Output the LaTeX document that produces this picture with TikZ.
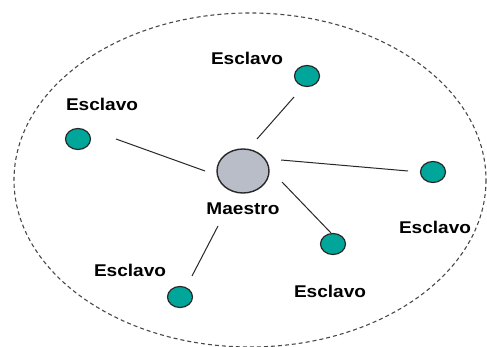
\documentclass[tikz,border=0pt]{standalone}
\usepackage{fontspec}
\setmainfont{Liberation Sans}
\usetikzlibrary{shapes.geometric}
\definecolor{slavefill}{RGB}{0,166,153}
\definecolor{masterfill}{RGB}{185,189,199}
\definecolor{edgegray}{RGB}{40,40,40}
\tikzset{
  slave/.style={ellipse, draw=edgegray, line width=1.2pt, fill=slavefill,
    minimum width=25pt, minimum height=21pt, inner sep=0pt},
  master/.style={ellipse, draw=edgegray, line width=1.4pt, fill=masterfill,
    minimum width=52pt, minimum height=44pt, inner sep=0pt},
  lbl/.style={font=\bfseries\fontsize{17}{20}\selectfont, text=black, inner sep=0pt},
  link/.style={draw=edgegray, line width=1pt},
}
\newcommand{\wide}[1]{\scalebox{1.12}[1]{#1}}
\begin{document}
\begin{tikzpicture}[x=1pt,y=-1pt]
  \useasboundingbox (0,0) rectangle (487,347);
  % network boundary
  \draw[dash pattern=on 4pt off 3pt, draw=edgegray!85, line width=1.1pt]
    (250,180) ellipse [x radius=236, y radius=167];
  % master and slaves
  \node[master] (m) at (243,171) {};
  \node[lbl] (ml) at (243,209) {\wide{Maestro}};
  \node[slave] (s1) at (307,76) {};
  \node[lbl] (l1) at (247,58) {\wide{Esclavo}};
  \node[slave] (s2) at (78,139) {};
  \node[lbl] (l2) at (102,104) {\wide{Esclavo}};
  \node[slave] (s3) at (433,172) {};
  \node[lbl] (l3) at (435,227) {\wide{Esclavo}};
  \node[slave] (s4) at (333,244) {};
  \node[lbl] (l4) at (330,291) {\wide{Esclavo}};
  \node[slave] (s5) at (180,297) {};
  \node[lbl] (l5) at (130,270) {\wide{Esclavo}};
  % links, each leaving a small gap at both nodes
  \draw[link] ([shift={(14,-32)}]m.center) -- ([shift={(-13,21)}]s1.center);
  \draw[link] ([shift={(-38,0)}]m.center) -- ([shift={(38,0)}]s2.center);
  \draw[link] ([shift={(38,-11)}]m.center) -- ([shift={(-25,-1)}]s3.center);
  \draw[link] ([shift={(39,11)}]m.center) -- ([shift={(-2,-11)}]s4.center);
  \draw[link] ([shift={(-25,55)}]m.center) -- ([shift={(12,-21)}]s5.center);
\end{tikzpicture}
\end{document}
